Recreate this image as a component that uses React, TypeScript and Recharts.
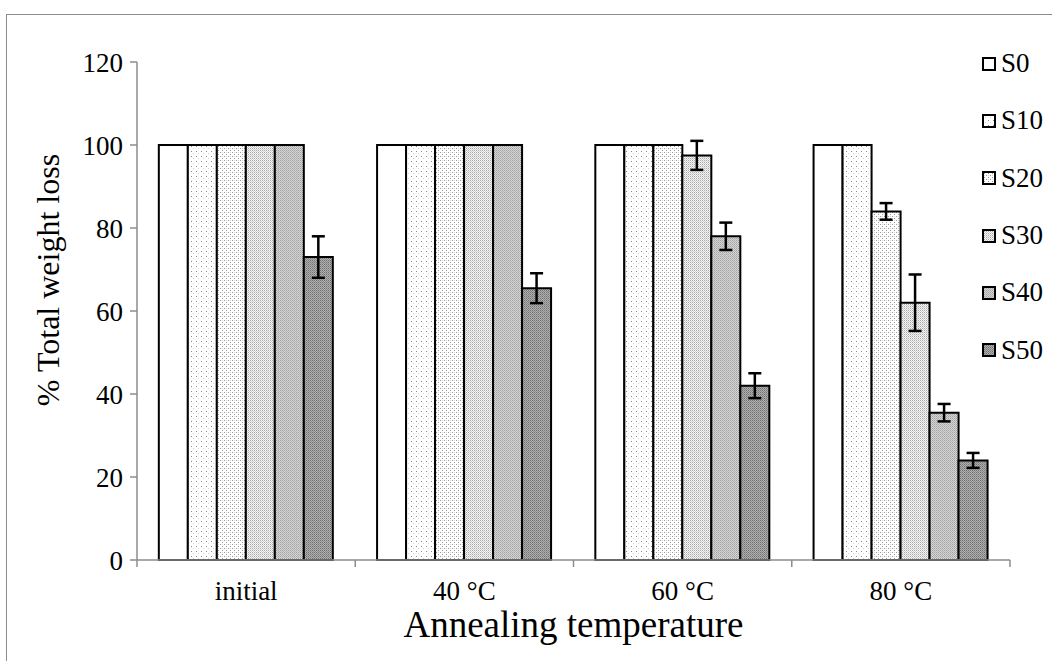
import React from 'react';
import { BarChart, Bar, XAxis, YAxis, ErrorBar, Legend } from 'recharts';

const categories = ['initial', '40 °C', '60 °C', '80 °C'];
const seriesNames = ['S0', 'S10', 'S20', 'S30', 'S40', 'S50'];
const S0 = [100, 100, 100, 100];
const S10 = [100, 100, 100, 100];
const S20 = [100, 100, 100, 84];
const S30 = [100, 100, 97.5, 62];
const S40 = [100, 100, 78, 35.5];
const S50 = [73, 65.5, 42, 24];
const S20err = [null, null, null, 2];
const S30err = [null, null, 3.5, 6.8];
const S40err = [null, null, 3.3, 2.1];
const S50err = [5, 3.6, 3, 1.8];
const yTicks = [0, 20, 40, 60, 80, 100, 120];

const values = [S0, S10, S20, S30, S40, S50];
const errors = [null, null, S20err, S30err, S40err, S50err];

const data = categories.map((name, i) => {
  const row: any = { name };
  seriesNames.forEach((s, k) => {
    row[s] = values[k][i];
    const e = errors[k];
    if (e && e[i] != null) row[s + 'err'] = e[i];
  });
  return row;
});

const FONT = "'Liberation Serif', 'Times New Roman', serif";
const fills = ['#ffffff', 'url(#pS10)', 'url(#pS20)', 'url(#pS30)', 'url(#pS40)', 'url(#pS50)'];

const Patterns = () => (
  <svg width={0} height={0} style={{ position: 'absolute' }}>
    <defs>
      <pattern id="pS10" width={5} height={5} patternUnits="userSpaceOnUse">
        <rect width={5} height={5} fill="#ffffff" />
        <rect x={1} y={1} width={1} height={1} fill="#8a8a8a" />
        <rect x={3} y={3} width={1} height={1} fill="#d4d4d4" />
      </pattern>
      <pattern id="pS20" width={4} height={4} patternUnits="userSpaceOnUse">
        <rect width={4} height={4} fill="#ffffff" />
        <rect x={0} y={0} width={1} height={1} fill="#9a9a9a" />
        <rect x={2} y={2} width={1} height={1} fill="#9a9a9a" />
        <rect x={2} y={0} width={1} height={1} fill="#d8d8d8" />
      </pattern>
      <pattern id="pS30" width={2} height={2} patternUnits="userSpaceOnUse">
        <rect width={2} height={2} fill="#f4f4f4" />
        <rect x={0} y={0} width={1} height={1} fill="#a8a8a8" />
        <rect x={1} y={1} width={1} height={1} fill="#d0d0d0" />
      </pattern>
      <pattern id="pS40" width={2} height={2} patternUnits="userSpaceOnUse">
        <rect width={2} height={2} fill="#d6d6d6" />
        <rect x={0} y={0} width={1} height={1} fill="#a0a0a0" />
        <rect x={1} y={1} width={1} height={1} fill="#b4b4b4" />
      </pattern>
      <pattern id="pS50" width={2} height={2} patternUnits="userSpaceOnUse">
        <rect width={2} height={2} fill="#b0b0b0" />
        <rect x={0} y={0} width={1} height={1} fill="#707070" />
        <rect x={1} y={1} width={1} height={1} fill="#8a8a8a" />
      </pattern>
    </defs>
  </svg>
);

const XTick = (props: any) => {
  const { x, y, payload, index, visibleTicksCount } = props;
  const off = payload && payload.offset ? payload.offset : 0;
  const last = index === (visibleTicksCount ?? categories.length) - 1;
  return (
    <g>
      <line x1={x - off} x2={x - off} y1={y} y2={y + 7} stroke="#8c8c8c" strokeWidth={1.5} />
      {last && <line x1={x + off} x2={x + off} y1={y} y2={y + 7} stroke="#8c8c8c" strokeWidth={1.5} />}
      <text x={x} y={y + 40} textAnchor="middle" fontFamily={FONT} fontSize={27} fill="#000">
        {payload.value}
      </text>
    </g>
  );
};

const LegendContent = () => (
  <div style={{ width: 80, fontFamily: FONT, fontSize: 27, color: '#000' }}>
    {seriesNames.map((s, k) => (
      <div key={s} style={{ height: 57.3, display: 'flex', alignItems: 'center', whiteSpace: 'nowrap' }}>
        <svg width={14} height={14} style={{ marginRight: 5 }}>
          <rect x={1} y={1} width={12} height={12} fill={fills[k]} stroke="#000" strokeWidth={2} />
        </svg>
        <span>{s}</span>
      </div>
    ))}
  </div>
);

export default function App() {
  return (
    <div style={{ position: 'absolute', left: 0, top: 0, width: 1052, height: 661, overflow: 'hidden', background: '#fff' }}>
      <Patterns />
      <div style={{ position: 'absolute', left: 6, top: 14, width: 1200, height: 800, border: '1.5px solid #8c8c8c' }} />
      <div style={{ position: 'absolute', left: 0, top: 0 }}>
        <BarChart
          width={1052}
          height={661}
          data={data}
          margin={{ top: 62, right: 42, bottom: 0, left: 37 }}
          barCategoryGap="10%"
          barGap={0}
        >
          <XAxis
            dataKey="name"
            axisLine={{ stroke: '#8c8c8c', strokeWidth: 1.5 }}
            tickLine={false}
            tickSize={0}
            tickMargin={0}
            height={101}
            tick={<XTick />}
            interval={0}
            label={(p: any) => {
              const vb = p.viewBox || {};
              return (
                <text x={vb.x + vb.width / 2} y={vb.y + 77} textAnchor="middle" fontFamily={FONT} fontSize={37} fill="#000">
                  Annealing temperature
                </text>
              );
            }}
          />
          <YAxis
            domain={[0, 120]}
            ticks={yTicks}
            width={100}
            axisLine={{ stroke: '#8c8c8c', strokeWidth: 1.5 }}
            tickLine={{ stroke: '#8c8c8c', strokeWidth: 1.5 }}
            tickSize={7}
            tickMargin={7}
            tick={{ fontFamily: FONT, fontSize: 27, fill: '#000' }}
            label={(p: any) => {
              const vb = p.viewBox || {};
              const cx = vb.x + 11;
              const cy = vb.y + vb.height / 2 - 31;
              return (
                <text x={cx} y={cy} transform={`rotate(-90 ${cx} ${cy})`} textAnchor="middle" dominantBaseline="central" fontFamily={FONT} fontSize={32} fill="#000">
                  % Total weight loss
                </text>
              );
            }}
          />
          <Legend
            layout="vertical"
            align="right"
            verticalAlign="top"
            wrapperStyle={{ position: 'absolute', left: 982, top: 35, width: 0, height: 0, overflow: 'visible' }}
            content={<LegendContent />}
          />
          {seriesNames.map((s, k) => (
            <Bar key={s} dataKey={s} fill={fills[k]} stroke="#000" strokeWidth={2} isAnimationActive={false}>
              {k >= 2 && (
                <ErrorBar dataKey={s + 'err'} width={6.5} stroke="#000" strokeWidth={2.5} direction="y" />
              )}
            </Bar>
          ))}
        </BarChart>
      </div>
    </div>
  );
}
